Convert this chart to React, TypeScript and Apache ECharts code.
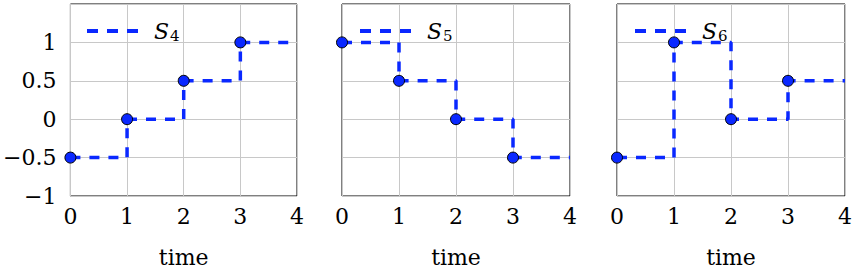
import React, { useEffect, useRef } from "react";
import * as echarts from "echarts";

const times = [0, 1, 2, 3];
const xEnd = 4;
const seriesNames = ["S4", "S5", "S6"];
const subscripts = ["4", "5", "6"];
const s4 = [-0.5, 0, 0.5, 1];
const s5 = [1, 0.5, 0, -0.5];
const s6 = [-0.5, 1, 0, 0.5];
const allSeries = [s4, s5, s6];
const xTicks = [0, 1, 2, 3, 4];
const yTicks = [-1, -0.5, 0, 0.5, 1];

const BLUE = "#0a28ff";
const FONT = "DejaVu Serif";

export default function App() {
  const ref = useRef<HTMLDivElement>(null);
  useEffect(() => {
    if (!ref.current) return;
    const chart = echarts.init(ref.current, undefined, { renderer: "svg" });
    const lefts = [69, 342, 617];
    const grid = lefts.map((l) => ({
      left: l,
      top: 4,
      width: 228,
      height: 195,
      show: true,
      borderColor: "#000",
      borderWidth: 1,
      backgroundColor: "transparent",
    }));
    const fmt = (v: number) => {
      if (!yTicks.includes(v)) return "";
      const s = String(Math.abs(v));
      return v < 0 ? "\u2212" + s : s;
    };
    const xAxis = lefts.map((_, i) => ({
      type: "value",
      gridIndex: i,
      min: xTicks[0],
      max: xTicks[xTicks.length - 1],
      interval: 1,
      name: "time",
      nameLocation: "middle",
      nameGap: 50,
      nameTextStyle: { fontFamily: FONT, fontSize: 22, color: "#000" },
      axisLine: { show: false },
      axisTick: { show: false },
      axisLabel: { fontFamily: FONT, fontSize: 22, color: "#000", margin: 9 },
      splitLine: { show: true, lineStyle: { color: "#c8c8c8", width: 1 } },
    }));
    const yAxis = lefts.map((_, i) => ({
      type: "value",
      gridIndex: i,
      min: -1,
      max: 1.5,
      interval: 0.5,
      axisLine: { show: false },
      axisTick: { show: false },
      axisLabel: {
        show: i === 0,
        fontFamily: FONT,
        fontSize: 22,
        color: "#000",
        margin: 14,
        formatter: fmt,
      },
      splitLine: { show: true, lineStyle: { color: "#c8c8c8", width: 1 } },
    }));
    const series: any[] = [];
    allSeries.forEach((vals, i) => {
      const lineData = times.map((t, k) => [t, vals[k]]);
      lineData.push([xEnd, vals[vals.length - 1]]);
      series.push({
        type: "line",
        name: seriesNames[i],
        xAxisIndex: i,
        yAxisIndex: i,
        step: "end",
        showSymbol: false,
        symbol: "none",
        data: lineData,
        lineStyle: { color: BLUE, width: 3.5, type: [10, 9], cap: "butt" },
        itemStyle: { color: BLUE },
        z: 2,
      });
      series.push({
        type: "scatter",
        name: seriesNames[i] + "m",
        xAxisIndex: i,
        yAxisIndex: i,
        data: times.map((t, k) => [t, vals[k]]),
        symbolSize: 11,
        itemStyle: { color: BLUE, borderColor: "#000", borderWidth: 1, opacity: 1 },
        z: 3,
      });
    });
    const legend = lefts.map((l, i) => ({
      data: [seriesNames[i]],
      left: l + 16,
      top: 20,
      padding: 0,
      itemWidth: 51,
      itemHeight: 18,
      itemStyle: { opacity: 0 },
      lineStyle: { color: BLUE, width: 4, type: [11, 9], cap: "butt" },
      formatter: () => "{s|S}{b|" + subscripts[i] + "}",
      textStyle: {
        padding: [0, 0, 0, 11],
        rich: {
          s: { fontFamily: FONT, fontStyle: "italic", fontSize: 22, color: "#000" },
          b: {
            fontFamily: FONT,
            fontSize: 15,
            color: "#000",
            padding: [10, 0, 0, 1],
          },
        },
      },
    }));
    chart.setOption({
      animation: false,
      grid,
      xAxis,
      yAxis,
      series,
      legend,
    });
    return () => chart.dispose();
  }, []);
  return (
    <div
      ref={ref}
      style={{ position: "fixed", left: 0, top: 0, width: 863, height: 273, background: "#fff" }}
    />
  );
}
